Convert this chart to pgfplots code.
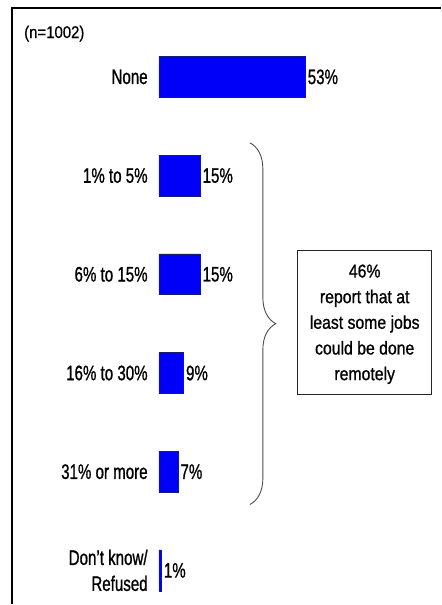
\documentclass[border=0pt]{standalone}
\usepackage{fontspec}
\setmainfont{Liberation Sans}[FakeStretch=0.88, FakeBold=0.5]
\newfontfamily\labf{Liberation Sans}[FakeStretch=0.72, FakeBold=0.9]
\newfontfamily\boxf{Liberation Sans}[FakeStretch=0.85, FakeBold=0.9]
\usepackage{pgfplots}
\pgfplotsset{compat=1.18}
\usetikzlibrary{decorations.pathreplacing}
\definecolor{barblue}{RGB}{0,0,250}
\definecolor{baredge}{RGB}{25,25,110}
\begin{document}
\begin{tikzpicture}
\begin{axis}[
  scale only axis,
  width=429bp, height=597bp,
  xmin=-53.07, xmax=101.8,
  ymin=-0.698, ymax=5.344,
  y dir=reverse,
  axis line style={draw=none},
  xtick=\empty,
  ytick={0,1,2,3,4,5},
  yticklabels={None,1\% to 5\%,6\% to 15\%,16\% to 30\%,31\% or more,{Don’t know/\\Refused}},
  yticklabel style={anchor=east, align=right, inner sep=0pt, xshift=136bp,
     font=\labf\fontsize{21bp}{26bp}\selectfont},
  major tick length=0pt,
  clip=false,
  xbar, bar width=41bp, bar shift=0pt,
  nodes near coords={\pgfmathprintnumber[assume math mode=true]{\pgfplotspointmeta}\%},
  every node near coord/.append style={anchor=west, inner sep=2bp,
     font=\labf\fontsize{21bp}{24bp}\selectfont},
]
\addplot[fill=barblue, draw=baredge, line width=0.6bp] coordinates {
 (53,0) (15,1) (15,2) (9,3) (7,4) (1,5)};
\draw[line width=1.3bp] (rel axis cs:0,0) -- (rel axis cs:0,1) -- (rel axis cs:1,1);
\node[anchor=west, font=\fontsize{17bp}{19bp}\selectfont, inner sep=0pt] at (rel axis cs:0.028,0.957) {(n=1002)};
\draw[decorate, decoration={brace, amplitude=26bp}, draw=black!70, line width=0.9bp]
  (axis cs:32.9,0.668) -- (axis cs:32.9,4.332);
\draw[line width=0.9bp, draw=black!85] (axis cs:50.2,1.761) rectangle (axis cs:98.6,3.219);
\node[align=center, font=\boxf\fontsize{18.6bp}{25.7bp}\selectfont] at (axis cs:74.4,2.506)
  {46\%\\report that at\\least some jobs\\could be done\\remotely};
\end{axis}
\path (current axis.south west) ++(-12bp,0) (current axis.north west) ++(0,8bp);
\end{tikzpicture}
\end{document}
